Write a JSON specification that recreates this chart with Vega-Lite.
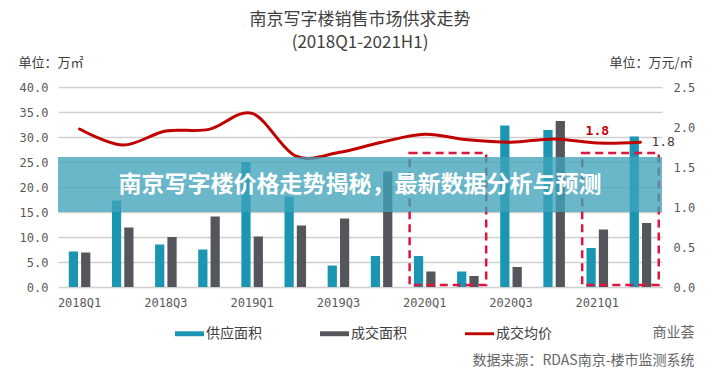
{
  "$schema": "https://vega.github.io/schema/vega-lite/v6.json",
  "autosize": "none",
  "width": 604,
  "height": 200,
  "padding": {"left": 58, "top": 87, "right": 64, "bottom": 83},
  "background": "#ffffff",
  "config": {"view": {"stroke": null}, "font": "Noto Sans CJK SC", "axis": {"labelOverlap": false, "labelBound": false}},
  "title": {
    "text": ["南京写字楼销售市场供求走势", "(2018Q1-2021H1)"],
    "fontSize": 17,
    "fontWeight": "normal",
    "color": "#404040",
    "lineHeight": 23,
    "anchor": "middle",
    "frame": "group",
    "offset": 4
  },
  "data": {
    "values": [
      {"quarter": "2018Q1", "供应面积": 7.1, "成交面积": 6.9, "成交均价": 1.975},
      {"quarter": "2018Q2", "供应面积": 17.3, "成交面积": 11.9, "成交均价": 1.775},
      {"quarter": "2018Q3", "供应面积": 8.5, "成交面积": 10.0, "成交均价": 1.95},
      {"quarter": "2018Q4", "供应面积": 7.5, "成交面积": 14.1, "成交均价": 1.97},
      {"quarter": "2019Q1", "供应面积": 25.0, "成交面积": 10.1, "成交均价": 2.17},
      {"quarter": "2019Q2", "供应面积": 18.1, "成交面积": 12.3, "成交均价": 1.64},
      {"quarter": "2019Q3", "供应面积": 4.3, "成交面积": 13.7, "成交均价": 1.68},
      {"quarter": "2019Q4", "供应面积": 6.2, "成交面积": 23.1, "成交均价": 1.81},
      {"quarter": "2020Q1", "供应面积": 6.2, "成交面积": 3.1, "成交均价": 1.91},
      {"quarter": "2020Q2", "供应面积": 3.1, "成交面积": 2.2, "成交均价": 1.84},
      {"quarter": "2020Q3", "供应面积": 32.3, "成交面积": 4.0, "成交均价": 1.81},
      {"quarter": "2020Q4", "供应面积": 31.4, "成交面积": 33.2, "成交均价": 1.85},
      {"quarter": "2021Q1", "供应面积": 7.8, "成交面积": 11.5, "成交均价": 1.80},
      {"quarter": "2021Q2", "供应面积": 30.1, "成交面积": 12.8, "成交均价": 1.81}
    ]
  },
  "layer": [
    {
      "layer": [
        {
          "transform": [{"fold": ["供应面积", "成交面积"], "as": ["指标", "面积"]}],
          "mark": {"type": "bar"},
          "encoding": {
            "x": {
              "field": "quarter",
              "type": "ordinal",
              "scale": {
                "domain": ["2018Q1","2018Q2","2018Q3","2018Q4","2019Q1","2019Q2","2019Q3","2019Q4","2020Q1","2020Q2","2020Q3","2020Q4","2021Q1","2021Q2"],
                "paddingInner": 0.5,
                "paddingOuter": 0.25
              },
              "axis": {
                "values": ["2018Q1","2018Q3","2019Q1","2019Q3","2020Q1","2020Q3","2021Q1"],
                "labelAngle": 0,
                "ticks": false,
                "domain": false,
                "grid": false,
                "labelFont": "DejaVu Sans Mono",
                "labelFontSize": 12,
                "labelColor": "#595959",
                "labelPadding": 10,
                "title": ["商业荟", "数据来源：RDAS南京-楼市监测系统"],
                "titleX": 636,
                "titleY": 45,
                "titleAlign": "right",
                "titleBaseline": "middle",
                "titleFontSize": 14,
                "titleFontWeight": "normal",
                "titleColor": "#666666",
                "titleLineHeight": 28,
                "titleFont": "Noto Sans CJK SC"
              }
            },
            "xOffset": {
              "field": "指标",
              "type": "nominal",
              "scale": {"domain": ["供应面积", "成交面积"], "paddingInner": 0.25, "paddingOuter": 0}
            },
            "y": {
              "field": "面积",
              "type": "quantitative",
              "scale": {"domain": [0, 40]},
              "axis": {
                "values": [0, 5, 10, 15, 20, 25, 30, 35, 40],
                "tickCount": 9,
                "format": ".1f",
                "labelOverlap": false,
                "ticks": false,
                "domain": false,
                "grid": true,
                "gridColor": "#d0d0d0",
                "gridWidth": 1.5,
                "labelFont": "DejaVu Sans Mono",
                "labelFontSize": 12,
                "labelColor": "#595959",
                "labelPadding": 10,
                "title": "单位：万㎡",
                "titleAngle": 0,
                "titleX": -40,
                "titleY": -25,
                "titleAlign": "left",
                "titleBaseline": "middle",
                "titleFontSize": 13,
                "titleFontWeight": "normal",
                "titleColor": "#404040"
              }
            },
            "color": {
              "field": "指标",
              "type": "nominal",
              "scale": {"domain": ["供应面积", "成交面积", "成交均价"], "range": ["#1a96b2", "#54565b", "#c00000"]},
              "legend": {
                "orient": "none",
                "legendX": 117,
                "legendY": 232,
                "direction": "horizontal",
                "title": null,
                "labelFontSize": 14,
                "labelColor": "#404040",
                "labelFont": "Noto Sans CJK SC",
                "symbolSize": 841,
                "symbolType": "M-1,-0.17H1V0.17H-1Z",
                "symbolStrokeWidth": 0,
                "symbolOpacity": 1,
                "columnPadding": 58,
                "labelOffset": 2,
                "encode": {
                  "symbols": {
                    "update": {
                      "shape": {"signal": "datum.value === '成交均价' ? 'M-1,-0.1H1V0.1H-1Z' : 'M-1,-0.17H1V0.17H-1Z'"}
                    }
                  }
                }
              }
            }
          }
        },
        {
          "data": {"values": [{"起": "2020Q1", "止": "2020Q2"}, {"起": "2021Q1", "止": "2021Q2"}]},
          "mark": {"type": "rect", "filled": false, "stroke": "#d9173f", "strokeWidth": 2.5, "strokeDash": [8, 5]},
          "encoding": {
            "x": {"field": "起", "type": "ordinal", "bandPosition": -0.2},
            "x2": {"field": "止", "bandPosition": 1.35},
            "y": {
              "datum": 26.8,
              "type": "quantitative",
              "axis": {
                "values": [0, 5, 10, 15, 20, 25, 30, 35, 40],
                "tickCount": 9,
                "format": ".1f",
                "labelOverlap": false,
                "ticks": false,
                "domain": false,
                "grid": true,
                "gridColor": "#d0d0d0",
                "gridWidth": 1.5,
                "labelFont": "DejaVu Sans Mono",
                "labelFontSize": 12,
                "labelColor": "#595959",
                "labelPadding": 10,
                "title": "单位：万㎡",
                "titleAngle": 0,
                "titleX": -40,
                "titleY": -25,
                "titleAlign": "left",
                "titleBaseline": "middle",
                "titleFontSize": 13,
                "titleFontWeight": "normal",
                "titleColor": "#404040"
              }
            },
            "y2": {"datum": 0.4}
          }
        }
      ]
    },
    {
      "encoding": {
        "x": {"field": "quarter", "type": "ordinal"},
        "y": {
          "field": "成交均价",
          "type": "quantitative",
          "scale": {"domain": [0, 2.5]},
          "axis": {
            "orient": "right",
            "values": [0, 0.5, 1, 1.5, 2, 2.5],
            "format": ".1f",
            "labelOverlap": false,
            "ticks": false,
            "domain": false,
            "grid": false,
            "labelFont": "DejaVu Sans Mono",
            "labelFontSize": 12,
            "labelColor": "#595959",
            "labelPadding": 11,
            "title": "单位：万元/㎡",
            "titleAngle": 0,
            "titleX": -53,
            "titleY": -25,
            "titleAlign": "left",
            "titleBaseline": "middle",
            "titleFontSize": 13,
            "titleFontWeight": "normal",
            "titleColor": "#404040"
          }
        }
      },
      "layer": [
        {
          "mark": {"type": "line", "interpolate": "cardinal", "strokeWidth": 3, "strokeCap": "round"},
          "encoding": {"color": {"datum": "成交均价"}}
        },
        {
          "transform": [{"filter": "datum.quarter === '2021Q1'"}],
          "mark": {"type": "text", "dy": -12, "font": "DejaVu Sans Mono", "fontSize": 13, "fontWeight": "bold", "color": "#c00000"},
          "encoding": {"text": {"field": "成交均价", "type": "quantitative", "format": ".1f"}}
        },
        {
          "transform": [{"filter": "datum.quarter === '2021Q2'"}],
          "mark": {"type": "text", "dx": 11, "align": "left", "font": "DejaVu Sans Mono", "fontSize": 13, "color": "#404040"},
          "encoding": {"text": {"field": "成交均价", "type": "quantitative", "format": ".1f"}}
        }
      ]
    },
    {
      "data": {"values": [{"文字": "南京写字楼价格走势揭秘，最新数据分析与预测"}]},
      "layer": [
        {
          "mark": {"type": "rect", "fill": "#3fa3ba", "opacity": 0.78},
          "encoding": {
            "y": {"datum": 26, "type": "quantitative", "scale": {"domain": [0, 40]}, "axis": null},
            "y2": {"datum": 15}
          }
        },
        {
          "mark": {"type": "text", "fontSize": 23, "fontWeight": "bold", "color": "#ffffff", "font": "Noto Sans CJK SC"},
          "encoding": {
            "y": {"datum": 20.5, "type": "quantitative", "scale": {"domain": [0, 40]}, "axis": null},
            "text": {"field": "文字"}
          }
        }
      ]
    }
  ],
  "resolve": {"scale": {"y": "independent"}}
}
